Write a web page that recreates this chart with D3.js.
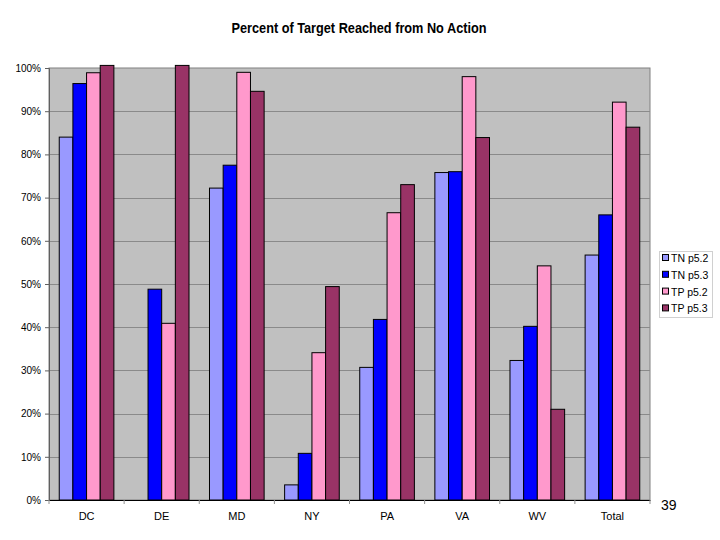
<!DOCTYPE html>
<html><head><meta charset="utf-8">
<script src="https://cdn.jsdelivr.net/npm/d3@7"></script>
<style>body{margin:0;background:#fff}svg{display:block}text{font-family:"Liberation Sans",Arial,sans-serif}</style>
</head><body>
<svg id="c" width="720" height="540"></svg>
<script>
const categories = ["DC","DE","MD","NY","PA","VA","WV","Total"];
const seriesNames = ["TN p5.2","TN p5.3","TP p5.2","TP p5.3"];
const tnP52 = [84.0, 0, 72.2, 3.5, 30.7, 75.8, 32.3, 56.7];
const tnP53 = [96.4, 48.8, 77.5, 10.8, 41.8, 76.0, 40.2, 66.0];
const tpP52 = [98.9, 40.9, 99.0, 34.1, 66.5, 98.0, 54.2, 92.1];
const tpP53 = [100.6, 100.6, 94.6, 49.4, 73.0, 83.9, 21.0, 86.3];
const yTicks = [0,10,20,30,40,50,60,70,80,90,100];
const colors = ["#9999FF","#0000FF","#FF99CC","#993366"];
const series = [tnP52, tnP53, tpP52, tpP53];

const svg = d3.select("#c");
const L = 49, R = 650, T = 68, B = 500;
const x0 = d3.scaleBand().domain(categories).range([L, R]).paddingInner(0).paddingOuter(0);
const y = d3.scaleLinear().domain([0, 100]).range([B, T]);

// plot background
svg.append("rect").attr("x", L).attr("y", T).attr("width", R - L).attr("height", B - T)
  .attr("fill", "#C0C0C0").attr("stroke", "#808080").attr("stroke-width", 1);

// gridlines
svg.append("g").selectAll("line").data(yTicks.filter(d => d > 0 && d < 100)).join("line")
  .attr("x1", L).attr("x2", R).attr("y1", d => Math.round(y(d)) + 0.5).attr("y2", d => Math.round(y(d)) + 0.5)
  .attr("stroke", "#8a8a8a").attr("stroke-width", 1);

// bars
const bw = x0.bandwidth() / 5.5;
const groups = svg.append("g").selectAll("g").data(categories).join("g")
  .attr("transform", d => `translate(${x0(d) + bw * 0.75},0)`);
groups.selectAll("rect").data((d, i) => series.map((s, j) => ({v: s[i], j})).filter(e => e.v > 0)).join("rect")
  .attr("x", e => e.j * bw)
  .attr("y", e => y(e.v))
  .attr("width", bw)
  .attr("height", e => B - y(e.v))
  .attr("fill", e => colors[e.j])
  .attr("stroke", "#000").attr("stroke-width", 1);

// y axis
const yAxis = d3.axisLeft(y).tickValues(yTicks).tickFormat(d => d + "%").tickSize(4).tickPadding(4);
const ya = svg.append("g").attr("transform", `translate(${L},0)`).call(yAxis);
ya.select(".domain").attr("stroke", "#606060");
ya.selectAll(".tick line").attr("stroke", "#606060");
ya.selectAll("text").attr("font-size", 10).attr("fill", "#000").attr("font-family", "Liberation Sans, Arial, sans-serif");

// x axis
const xa = svg.append("g").attr("transform", `translate(0,${B})`)
  .call(d3.axisBottom(x0).tickSize(0).tickPadding(12));
xa.select(".domain").attr("stroke", "#000");
xa.selectAll("text").attr("font-size", 11).attr("fill", "#000").attr("font-family", "Liberation Sans, Arial, sans-serif");
svg.append("g").selectAll("line").data(d3.range(categories.length + 1)).join("line")
  .attr("x1", i => L + i * x0.bandwidth()).attr("x2", i => L + i * x0.bandwidth())
  .attr("y1", B).attr("y2", B + 4).attr("stroke", "#909090");

// title
svg.append("text").attr("x", 359).attr("y", 32.5).attr("text-anchor", "middle")
  .attr("font-size", 14).attr("font-weight", "bold")
  .attr("textLength", 255).attr("lengthAdjust", "spacingAndGlyphs")
  .text("Percent of Target Reached from No Action");

// legend
const lg = svg.append("g");
lg.append("rect").attr("x", 659.5).attr("y", 251.5).attr("width", 53).attr("height", 66)
  .attr("fill", "#fff").attr("stroke", "#d0d0d0");
const li = lg.selectAll("g").data(seriesNames).join("g")
  .attr("transform", (d, i) => `translate(662,${258 + i * 16.8})`);
li.append("rect").attr("x", 0.5).attr("y", -3.5).attr("width", 6).attr("height", 6)
  .attr("fill", (d, i) => colors[i]).attr("stroke", "#000");
li.append("text").attr("x", 9).attr("y", 4).attr("font-size", 10.5).text(d => d);

// page number
svg.append("text").attr("x", 661).attr("y", 510).attr("font-size", 14).text("39");
</script>
</body></html>
